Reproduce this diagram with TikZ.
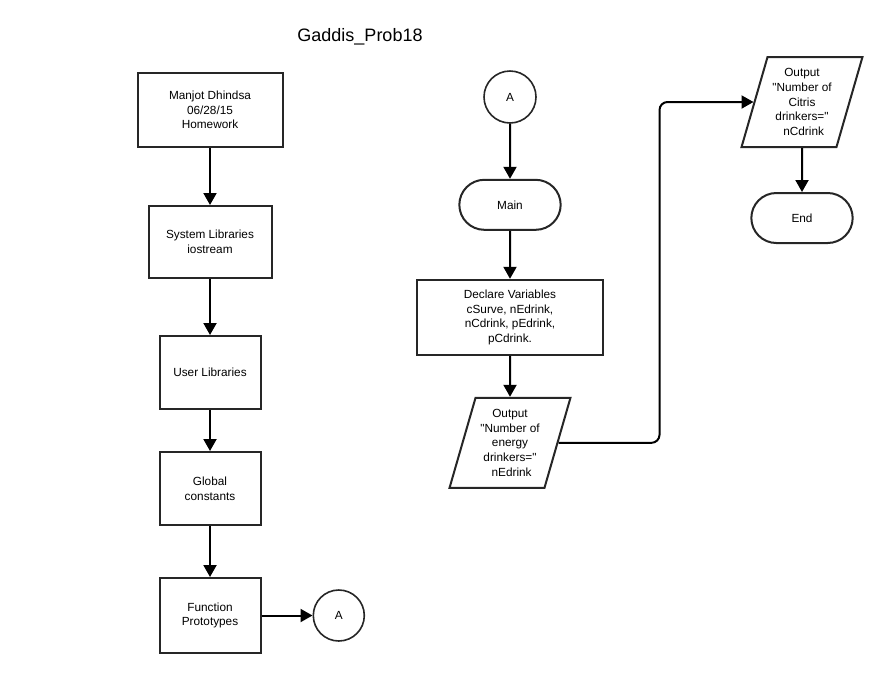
\documentclass[tikz,border=0pt]{standalone}
\usepackage{fontspec}
\setmainfont{Liberation Sans}[Ligatures=TeXOff]

\usetikzlibrary{arrows.meta,positioning,shapes.geometric,shapes.misc}

\begin{document}
\begin{tikzpicture}[x=1pt,y=-1pt,
    every node/.style={align=center,font=\fontsize{11.8}{14.7}\selectfont},
    box/.style={draw=black!85,line width=2pt,minimum width=#1,minimum height=73pt,inner sep=0pt},
    box/.default=101pt,
    term/.style={draw=black!85,line width=2pt,rounded rectangle,minimum width=108pt,minimum height=50pt},
    conn/.style={draw=black!85,line width=1.6pt,circle,minimum size=51pt,inner sep=0pt},
    io/.style={draw=black!85,line width=2pt,trapezium,trapezium left angle=71.6,trapezium right angle=108.4,
      trapezium stretches=true,minimum width=121pt,minimum height=90pt,inner sep=0pt},
    flow/.style={-{Triangle[length=12pt,width=13pt]},line width=2pt,black}]
  \useasboundingbox (0,0) rectangle (877,673);
  \node[font=\fontsize{18}{22}\selectfont] (ttl) at (360,37) {Gaddis\_Prob18};
  % left column
  \node[box=145pt,minimum height=74pt] (hdr) at (210,110) {Manjot Dhindsa\\06/28/15\\Homework};
  \node[box=123pt,minimum height=72pt,below=57pt of hdr] (sys) {System Libraries\\iostream};
  \node[box,below=56pt of sys] (usr) {User Libraries};
  \node[box,below=41pt of usr] (glb) {Global\\constants};
  \node[box,minimum height=75pt,below=51pt of glb] (fnc) {Function\\Prototypes};
  \node[conn,right=51pt of fnc] (conA) {A};
  % middle column
  \node[conn,minimum size=52pt] (conB) at (510,97) {A};
  \node[term,below=55pt of conB] (main) {Main};
  \node[box=186pt,minimum height=75pt,below=48pt of main] (decl) {Declare Variables\\cSurve, nEdrink,\\nCdrink, pEdrink,\\pCdrink.};
  \node[io,below=41pt of decl] (outE) {Output\\"Number of\\energy\\drinkers="\\\ nEdrink};
  % right column
  \node[io] (outC) at (802,102) {Output\\"Number of\\Citris\\drinkers="\\\ nCdrink};
  \node[term,below=44pt of outC] (fin) {End};
  \draw[flow] (hdr) -- (sys);
  \draw[flow] (sys) -- (usr);
  \draw[flow] (usr) -- (glb);
  \draw[flow] (glb) -- (fnc);
  \draw[flow] (fnc) -- (conA);
  \draw[flow] (conB) -- (main);
  \draw[flow] (main) -- (decl);
  \draw[flow] (decl) -- (outE);
  \draw[flow,rounded corners=8pt] (outE.east) -- ++(101,0) |- (outC.west);
  \draw[flow] (outC) -- (fin);
\end{tikzpicture}
\end{document}
